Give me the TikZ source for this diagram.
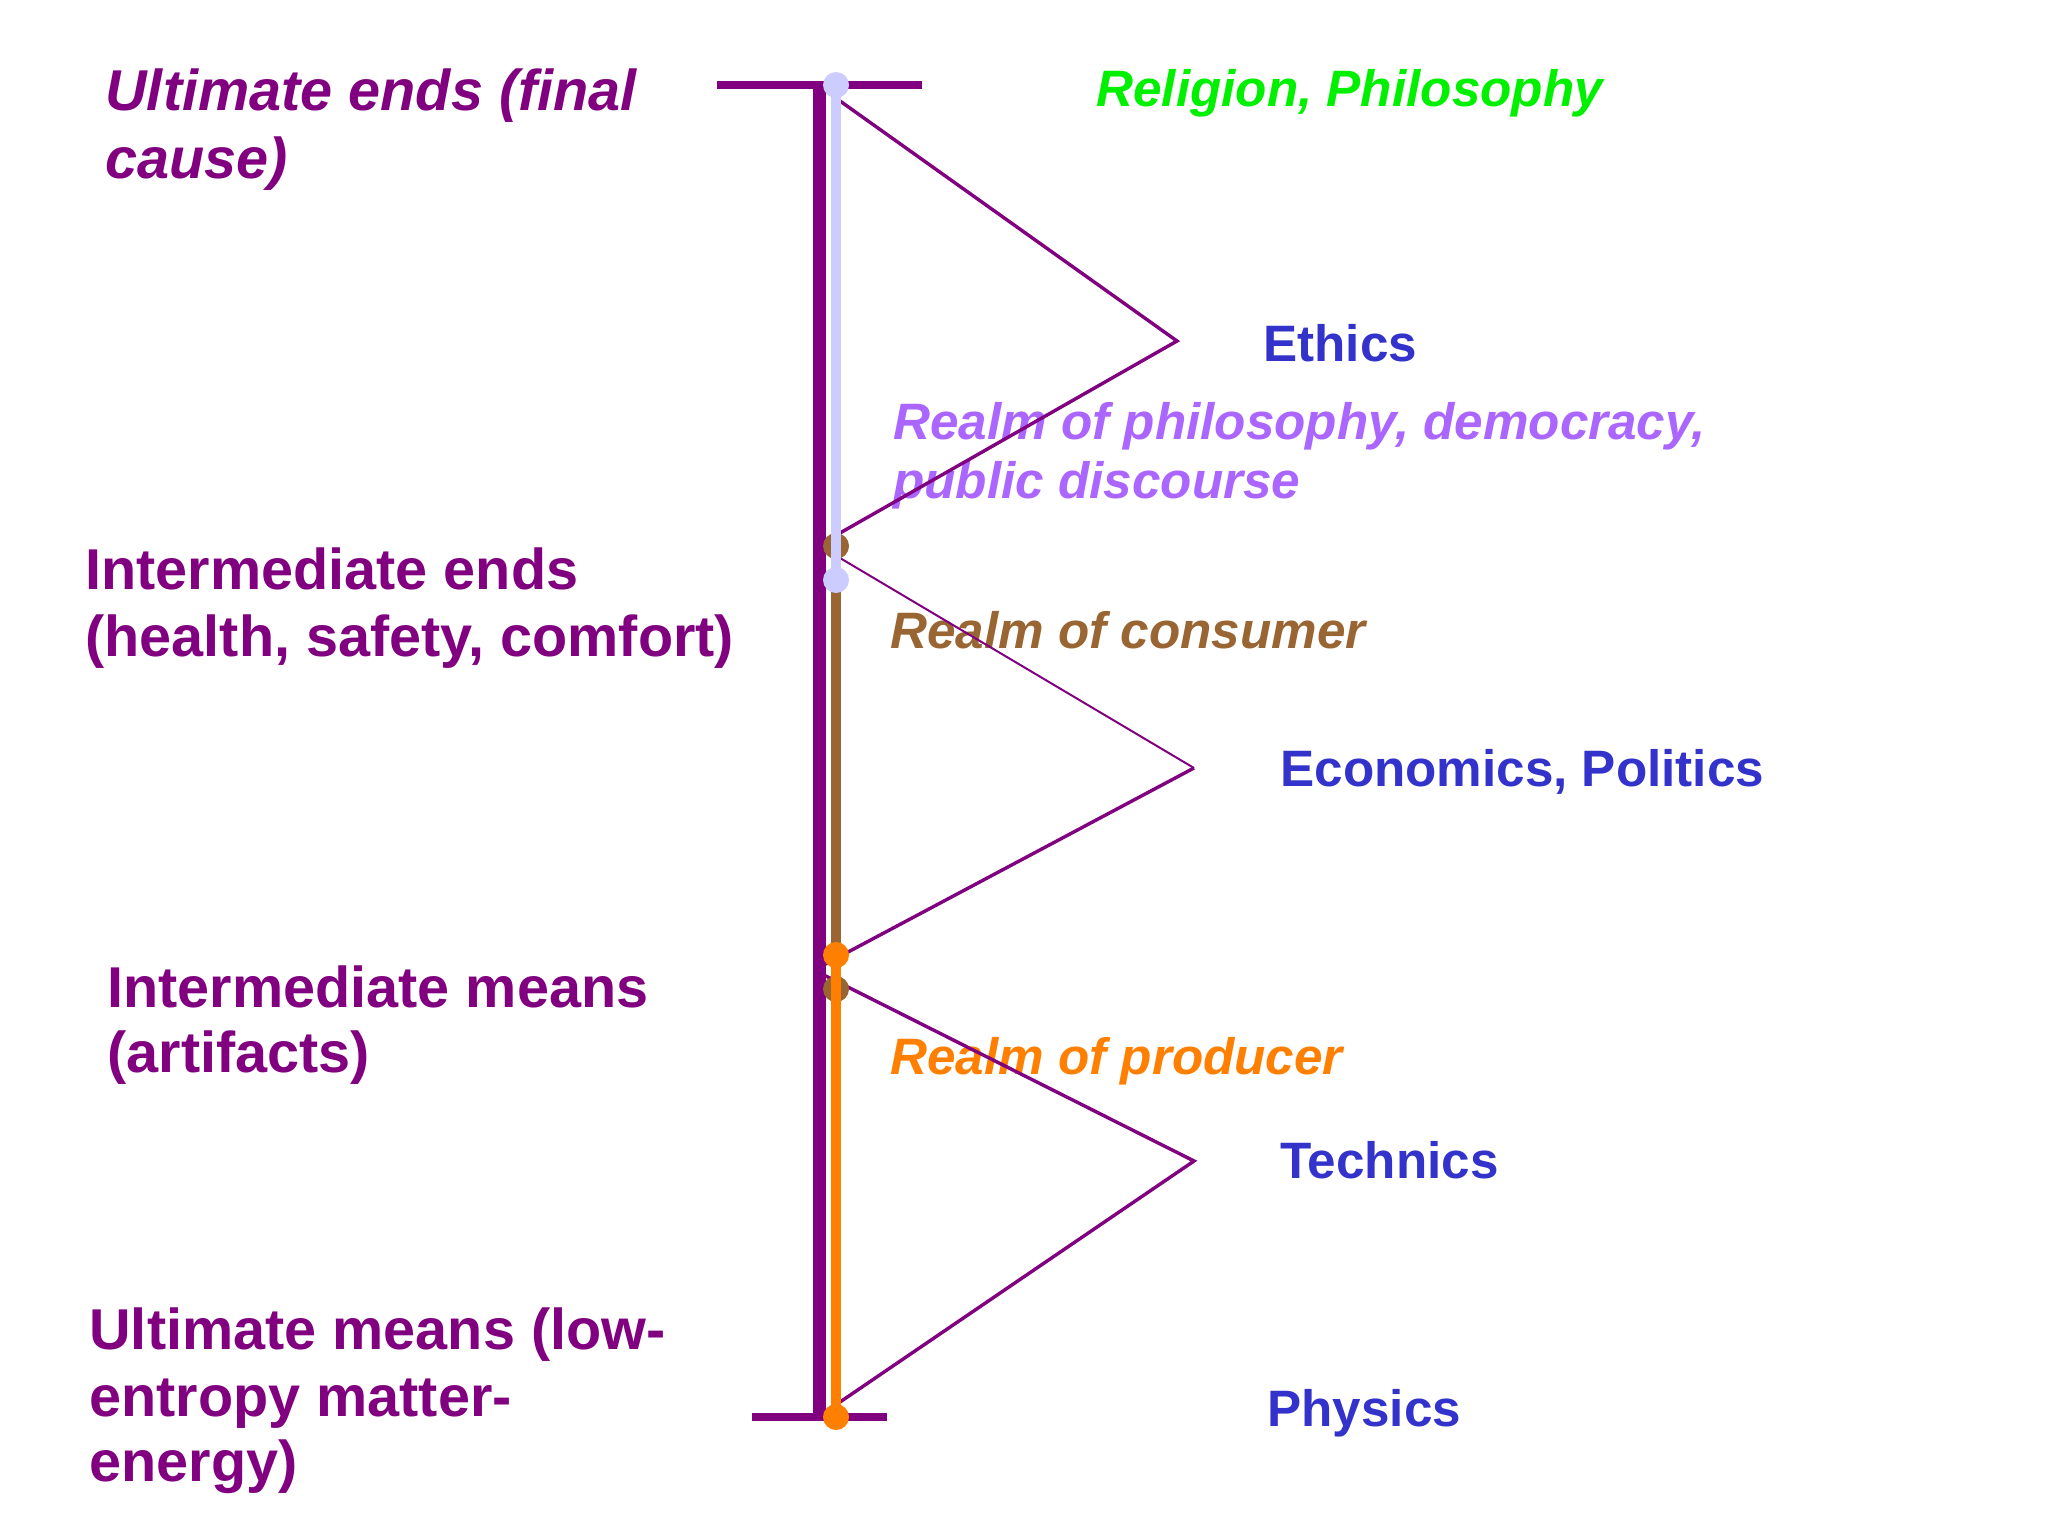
\documentclass[tikz,border=0pt]{standalone}
\usepackage{fontspec}
\setmainfont{Liberation Sans}
\definecolor{dpurple}{RGB}{128,0,128}
\definecolor{lgreen}{RGB}{0,240,0}
\definecolor{lblue}{RGB}{51,51,204}
\definecolor{lavtext}{RGB}{170,102,255}
\definecolor{lavline}{RGB}{204,204,255}
\definecolor{brownc}{RGB}{153,102,51}
\definecolor{orangec}{RGB}{255,128,0}
\tikzset{
  lefttxt/.style={font=\fontsize{28.8}{34}\selectfont\bfseries, text=dpurple, inner sep=0pt, anchor=base west},
  lefttxti/.style={lefttxt, font=\fontsize{28.8}{34}\selectfont\bfseries\itshape},
  righttxt/.style={font=\fontsize{25.6}{30}\selectfont\bfseries, inner sep=0pt, anchor=base west},
  righttxti/.style={font=\fontsize{25.6}{30}\selectfont\bfseries\itshape, inner sep=0pt, anchor=base west},
  zig/.style={draw=dpurple, line width=1.7pt, line join=miter},
  zigthin/.style={draw=dpurple, line width=1pt},
  bar/.style={draw=dpurple, line width=4pt},
  axis/.style={draw=dpurple, line width=6.5pt},
  realm/.style={line width=4.6pt},
}
\begin{document}
\begin{tikzpicture}[x=0.5pt,y=-0.5pt]
\useasboundingbox[fill=white] (0,0) rectangle (2048,1536);

% coordinates
\coordinate (topL) at (717,85);
\coordinate (topR) at (922,85);
\coordinate (botL) at (752,1417);
\coordinate (botR) at (887,1417);
\coordinate (vtop) at (819,85);
\coordinate (vbot) at (819,1417);
\coordinate (lavA) at (836,85);
\coordinate (lavB) at (836,580);
\coordinate (brA) at (836,546);
\coordinate (brB) at (836,989);
\coordinate (orA) at (836,955);
\coordinate (orB) at (836,1417);
\coordinate (z1s) at (840,101);
\coordinate (z1a) at (1177,341);
\coordinate (z1e) at (840,533);
\coordinate (z2s) at (840,558);
\coordinate (z2a) at (1194,768);
\coordinate (z2e) at (818,968);
\coordinate (z3s) at (818,972);
\coordinate (z3a) at (1194,1161);
\coordinate (z3e) at (840,1402);

% left labels
\node[lefttxti] (ue1) at (105,111) {Ultimate ends (final};
\node[lefttxti] (ue2) at (105,178) {cause)};
\node[lefttxt] (ie1) at (85,589) {Intermediate ends};
\node[lefttxt] (ie2) at (85,656) {(health, safety, comfort)};
\node[lefttxt] (im1) at (107,1007) {Intermediate means};
\node[lefttxt] (im2) at (107,1072) {(artifacts)};
\node[lefttxt] (um1) at (89,1349) {Ultimate means (low-};
\node[lefttxt] (um2) at (89,1416) {entropy matter-};
\node[lefttxt] (um3) at (89,1481) {energy)};

% right labels
\node[righttxti, text=lgreen] (rel) at (1096,106) {Religion, Philosophy};
\node[righttxt, text=lblue] (eth) at (1263,361) {Ethics};
\node[righttxti, text=lavtext] (rp1) at (893,439) {Realm of philosophy, democracy,};
\node[righttxti, text=lavtext] (rp2) at (893,498) {public discourse};
\node[righttxti, text=brownc] (rc) at (890,648) {Realm of consumer};
\node[righttxt, text=lblue] (ep) at (1280,786) {Economics, Politics};
\node[righttxti, text=orangec] (rpr) at (890,1074) {Realm of producer};
\node[righttxt, text=lblue] (tec) at (1280,1178) {Technics};
\node[righttxt, text=lblue] (phy) at (1267,1426) {Physics};

% zigzag
\draw[zig] (z1s) -- (z1a) -- (z1e);
\draw[zigthin] (z2s) -- (z2a);
\draw[zig] (z2a) -- (z2e);
\draw[zig] (z3s) -- (z3a) -- (z3e);

% axis and bars
\draw[axis] (vtop) -- (vbot);
\draw[bar] (topL) -- (topR);
\draw[bar] (botL) -- (botR);

% realms
\draw[realm, draw=brownc] (brA) -- (brB);
\fill[brownc] (brA) circle[radius=13];
\fill[brownc] (brB) circle[radius=13];
\draw[realm, draw=lavline] (lavA) -- (lavB);
\fill[lavline] (lavA) circle[radius=13];
\fill[lavline] (lavB) circle[radius=13];
\draw[realm, draw=orangec] (orA) -- (orB);
\fill[orangec] (orA) circle[radius=13];
\fill[orangec] (orB) circle[radius=13];
\end{tikzpicture}
\end{document}
